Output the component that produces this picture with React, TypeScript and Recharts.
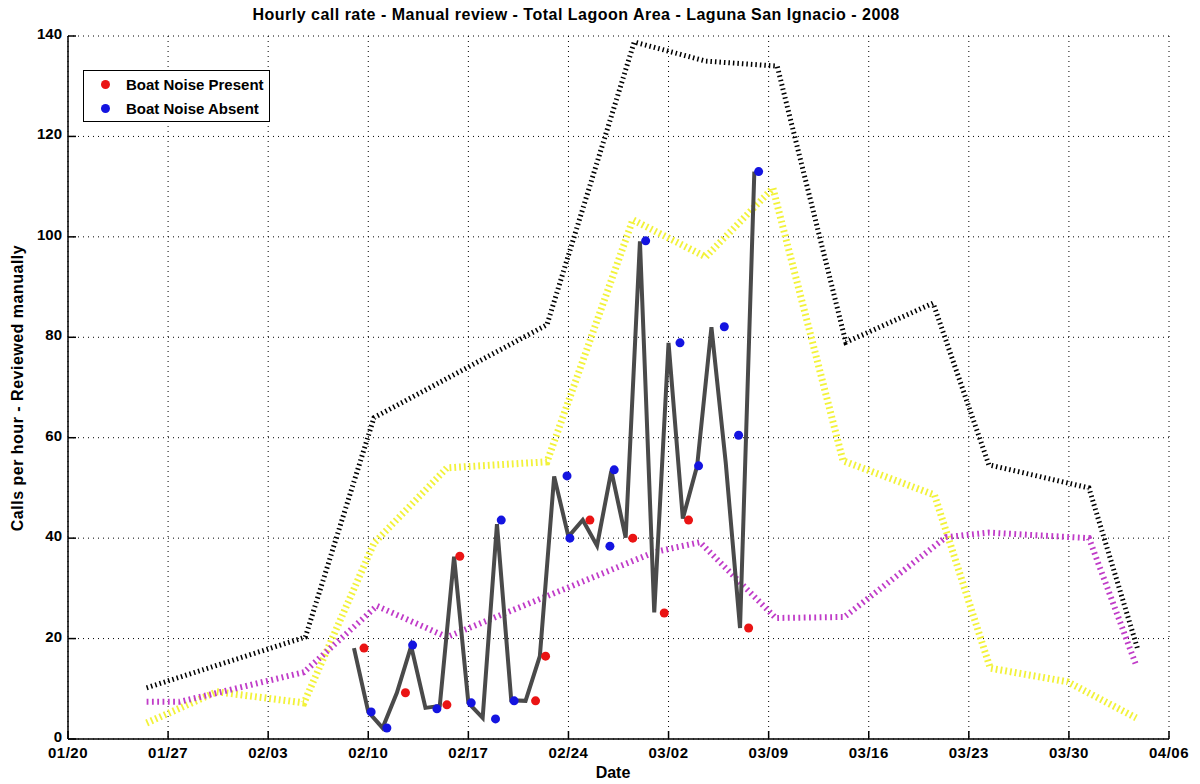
import React from "react";
import { ComposedChart, Line, Scatter, XAxis, YAxis, CartesianGrid } from "recharts";

// x values are days since 01/20/2008
const dateTicks = [0, 7, 14, 21, 28, 35, 42, 49, 56, 63, 70, 77];
const dateLabels = ["01/20", "01/27", "02/03", "02/10", "02/17", "02/24", "03/02", "03/09", "03/16", "03/23", "03/30", "04/06"];
const rateTicks = [0, 20, 40, 60, 80, 100, 120, 140];

// upper envelope (black dotted)
const blackDays = [5.5, 16.6, 21.4, 33.5, 39.6, 44.6, 49.6, 54.4, 60.5, 64.4, 71.4, 74.8];
const blackVals = [10.2, 20.3, 64, 82.5, 138.8, 135, 134, 79, 86.8, 54.6, 50, 18];

// yellow dotted
const yellowDays = [5.5, 10.4, 16.5, 21.4, 26.5, 33.5, 39.5, 44.6, 49.3, 54.2, 60.6, 64.5, 69.9, 74.7];
const yellowVals = [3.2, 9.4, 7.2, 39, 54, 55.2, 103.4, 96, 109.7, 55.4, 48.6, 14.1, 11.4, 4.2];

// magenta dotted
const purpleDays = [5.5, 7.8, 16.5, 21.6, 26.5, 41, 44.2, 49.5, 54.3, 61.4, 64.4, 71.4, 74.7];
const purpleVals = [7.4, 7.4, 13.3, 26.5, 20.3, 37.2, 39.2, 24.1, 24.3, 40.2, 41.1, 40, 14.7];

// daily manual review rate (gray line)
const dailyDays = [20, 21, 22, 23, 24, 25, 26, 27, 28, 29, 30, 31, 32, 33, 34, 35, 36, 37, 38, 39, 40, 41, 42, 43, 44, 45, 46, 47, 48];
const dailyVals = [18.1, 5.4, 2.2, 9.2, 18.5, 6.2, 6.6, 36.3, 7.2, 4.2, 42.8, 7.7, 7.6, 16.5, 52.3, 40.3, 43.6, 38.5, 53.4, 40.1, 99.1, 25.2, 78.9, 43.9, 54.4, 82, 55, 22.1, 113];

// samples with boat noise present / absent
const presentDays = [20.7, 23.6, 26.5, 27.4, 32.7, 33.4, 36.5, 39.5, 41.7, 43.4, 47.6];
const presentVals = [18.1, 9.2, 6.8, 36.4, 7.6, 16.5, 43.6, 40, 25.1, 43.6, 22.1];
const absentDays = [21.2, 22.3, 24.1, 25.8, 28.2, 29.9, 30.3, 31.2, 34.9, 35.1, 37.9, 38.2, 40.4, 42.8, 44.1, 45.9, 46.9, 48.3];
const absentVals = [5.4, 2.2, 18.7, 6.0, 7.2, 4.0, 43.6, 7.6, 52.4, 40, 38.4, 53.6, 99.2, 78.9, 54.4, 82.1, 60.5, 113];

const toPoints = (days: number[], vals: number[]) => days.map((d, i) => ({ day: d, v: vals[i] }));

const FONT = "'Liberation Sans', Arial, Helvetica, sans-serif";
const TICK = 8;

const BottomTick = (props: any) => {
  const { x, y, payload } = props;
  const idx = dateTicks.indexOf(payload.value);
  return (
    <g>
      <line x1={x} x2={x} y1={y} y2={y - TICK} stroke="#000" strokeWidth={1.5} />
      <text x={x} y={y + 19} textAnchor="middle" fontFamily={FONT} fontWeight="bold" fontSize={15} letterSpacing={0.5} fill="#000">
        {dateLabels[idx]}
      </text>
    </g>
  );
};

const TopTick = (props: any) => {
  const { x, y } = props;
  return <line x1={x} x2={x} y1={y} y2={y + TICK} stroke="#000" strokeWidth={1.5} />;
};

const LeftTick = (props: any) => {
  const { x, y, payload } = props;
  return (
    <g>
      <line x1={x} x2={x + TICK} y1={y} y2={y} stroke="#000" strokeWidth={1.5} />
      <text x={x - 6} y={y + 3} textAnchor="end" fontFamily={FONT} fontWeight="bold" fontSize={15} fill="#000">
        {payload.value}
      </text>
    </g>
  );
};

const RightTick = (props: any) => {
  const { x, y } = props;
  return <line x1={x} x2={x - TICK} y1={y} y2={y} stroke="#000" strokeWidth={1.5} />;
};

export default function App() {
  return (
    <div style={{ position: "absolute", left: 0, top: 0, width: 1200, height: 784, background: "#fff", fontFamily: FONT }}>
      <ComposedChart width={1200} height={784} margin={{ top: 36, right: 31, bottom: 0, left: 0 }}>
        <CartesianGrid stroke="#000" strokeDasharray="1 4" strokeWidth={1} />
        <XAxis
          type="number"
          dataKey="day"
          domain={[0, 77]}
          ticks={dateTicks}
          interval={0}
          height={45}
          tickSize={0}
          tickMargin={0}
          tickLine={false}
          tick={<BottomTick />}
          axisLine={{ stroke: "#000", strokeWidth: 1.5 }}
          allowDataOverflow
        />
        <XAxis
          xAxisId="top"
          orientation="top"
          type="number"
          dataKey="day"
          domain={[0, 77]}
          ticks={dateTicks}
          interval={0}
          height={0}
          tickSize={0}
          tickMargin={0}
          tickLine={false}
          tick={<TopTick />}
          axisLine={{ stroke: "#000", strokeWidth: 1.5 }}
          allowDataOverflow
        />
        <YAxis
          type="number"
          domain={[0, 140]}
          ticks={rateTicks}
          interval={0}
          width={68}
          tickSize={0}
          tickMargin={0}
          tickLine={false}
          tick={<LeftTick />}
          axisLine={{ stroke: "#000", strokeWidth: 1.5 }}
          allowDataOverflow
        />
        <YAxis
          yAxisId="right"
          orientation="right"
          type="number"
          domain={[0, 140]}
          ticks={rateTicks}
          interval={0}
          width={0}
          tickSize={0}
          tickMargin={0}
          tickLine={false}
          tick={<RightTick />}
          axisLine={{ stroke: "#000", strokeWidth: 1.5 }}
          allowDataOverflow
        />
        <Line
          data={toPoints(blackDays, blackVals)}
          dataKey="v"
          type="linear"
          stroke="#000"
          strokeWidth={5}
          strokeDasharray="1.5 3"
          dot={false}
          activeDot={false}
          isAnimationActive={false}
        />
        <Line
          data={toPoints(yellowDays, yellowVals)}
          dataKey="v"
          type="linear"
          stroke="#f2f23a"
          strokeWidth={7}
          strokeDasharray="1.8 3"
          dot={false}
          activeDot={false}
          isAnimationActive={false}
        />
        <Line
          data={toPoints(purpleDays, purpleVals)}
          dataKey="v"
          type="linear"
          stroke="#c03cc8"
          strokeWidth={6}
          strokeDasharray="1.8 3.5"
          dot={false}
          activeDot={false}
          isAnimationActive={false}
        />
        <Line
          data={toPoints(dailyDays, dailyVals)}
          dataKey="v"
          type="linear"
          stroke="#4a4a4a"
          strokeWidth={4}
          dot={false}
          activeDot={false}
          isAnimationActive={false}
        />
        <Scatter
          data={toPoints(presentDays, presentVals)}
          dataKey="v"
          fill="#ea1414"
          shape={(p: any) => <circle cx={p.cx} cy={p.cy} r={4.5} fill="#ea1414" />}
          isAnimationActive={false}
        />
        <Scatter
          data={toPoints(absentDays, absentVals)}
          dataKey="v"
          fill="#1414e0"
          shape={(p: any) => <circle cx={p.cx} cy={p.cy} r={4.5} fill="#1414e0" />}
          isAnimationActive={false}
        />
      </ComposedChart>

      {/* title and axis labels */}
      <div style={{ position: "absolute", left: 0, top: 6, width: 1152, textAlign: "center", fontSize: 16, letterSpacing: 0.5, fontWeight: "bold", color: "#000" }}>
        Hourly call rate - Manual review - Total Lagoon Area - Laguna San Ignacio - 2008
      </div>
      <div style={{ position: "absolute", left: 0, top: 764, width: 1226, textAlign: "center", fontSize: 16, fontWeight: "bold", color: "#000" }}>
        Date
      </div>
      <div
        style={{
          position: "absolute",
          left: 18,
          top: 388,
          transform: "translate(-50%, -50%) rotate(-90deg)",
          whiteSpace: "nowrap",
          fontSize: 16,
          letterSpacing: 0.5,
          fontWeight: "bold",
          color: "#000",
        }}
      >
        Calls per hour - Reviewed manually
      </div>

      {/* legend */}
      <div
        style={{
          position: "absolute",
          left: 83,
          top: 70,
          width: 187,
          height: 52,
          border: "1px solid #000",
          background: "#fff",
          boxSizing: "border-box",
          fontSize: 15,
          fontWeight: "bold",
          color: "#000",
        }}
      >
        {[
          { label: "Boat Noise Present", color: "#ea1414" },
          { label: "Boat Noise Absent", color: "#1414e0" },
        ].map((item, i) => (
          <div key={item.label} style={{ position: "absolute", left: 0, top: 4 + i * 24, height: 18, display: "flex", alignItems: "center" }}>
            <span style={{ display: "inline-block", width: 9, height: 9, borderRadius: "50%", background: item.color, marginLeft: 17 }} />
            <span style={{ marginLeft: 16 }}>{item.label}</span>
          </div>
        ))}
      </div>
    </div>
  );
}
